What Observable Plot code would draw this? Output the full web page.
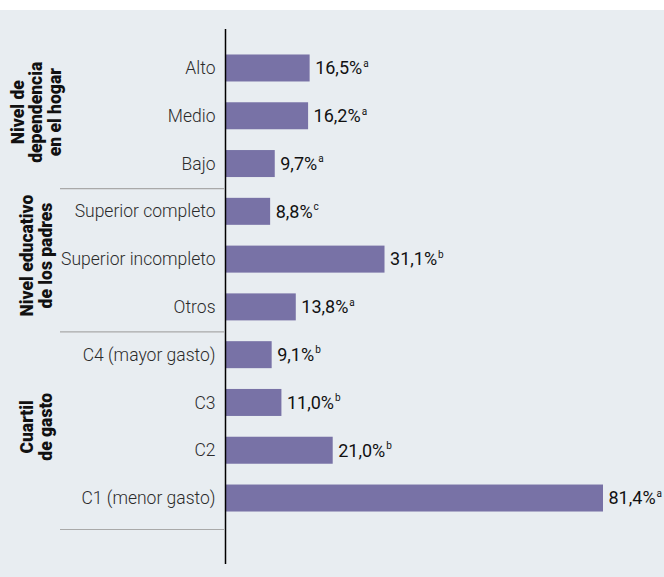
<!DOCTYPE html>
<html>
<head>
<meta charset="utf-8">
<script src="https://cdn.jsdelivr.net/npm/d3@7"></script>
<script src="https://cdn.jsdelivr.net/npm/@observablehq/plot@0.6"></script>
<style>
  html, body { margin: 0; padding: 0; background: #ffffff; }
  #chart { margin-top: 10px; width: 664px; height: 567px; background: #e8edf1; }
  #chart svg { display: block; }
</style>
</head>
<body>
<div id="chart"></div>
<script>
// ---- data ----
const categories = ["Alto", "Medio", "Bajo", "Superior completo", "Superior incompleto", "Otros",
                    "C4 (mayor gasto)", "C3", "C2", "C1 (menor gasto)"];
const values = [16.5, 16.2, 9.7, 8.8, 31.1, 13.8, 9.1, 11.0, 21.0, 81.4];
const letters = ["a", "a", "a", "c", "b", "a", "b", "b", "b", "a"];
const groupNames = ["Nivel de\ndependencia\nen el hogar", "Nivel educativo\nde los padres", "Cuartil\nde gasto"];
const groupSizes = [3, 3, 4];

// ---- build table ----
const data = categories.map((c, i) => ({cat: c, value: values[i], letter: letters[i]}));
const fmt = v => v.toFixed(1).replace(".", ",") + "%";
const SEP = "\u2063"; // invisible separator between value and superscript letter

// groups
const groups = [];
let start = 0;
groupSizes.forEach((n, gi) => {
  groups.push({name: groupNames[gi], first: start, last: start + n - 1, n});
  start += n;
});

const W = 664, H = 567;
const yRange = [23.7, 522.3];
const pad = 0.435;
const step = (yRange[1] - yRange[0]) / (categories.length - pad + 2 * pad);

const barColor = "#7872a6";
const sepColor = "#a9a9a9";
const textColor = "#2b2b2b";

// group label marks: anchor at middle category (+ half step if even)
const groupMarks = groups.map(g => {
  const midIdx = g.first + Math.floor((g.n - 1) / 2);
  const extra = (g.n % 2 === 0) ? step / 2 : -4;
  return Plot.text([g], {
    y: () => categories[midIdx],
    text: d => d.name,
    frameAnchor: "left",
    dx: -189,
    dy: extra,
    rotate: -90,
    textAnchor: "middle",
    lineAnchor: "middle",
    lineHeight: 1.05,
    fontSize: 17.5,
    fontWeight: 900,
    fill: "#111"
  });
});

const groupEnds = groups.slice(0, -1).map(g => categories[g.last]);
const lastEnd = [categories[groups[groups.length - 1].last]];

const plot = Plot.plot({
  width: W,
  height: H,
  marginLeft: 225,
  marginRight: 61,
  marginTop: 19,
  marginBottom: 13,
  style: {background: "transparent", fontFamily: "Roboto, sans-serif", color: textColor, overflow: "visible"},
  x: {domain: [0, 73.7], clamp: true, axis: null},
  y: {domain: categories, range: yRange, padding: pad, round: false, label: null},
  marks: [
    Plot.barX(data, {x: "value", y: "cat", fill: barColor}),
    Plot.ruleY(groupEnds, {dy: 24.5, stroke: sepColor, strokeWidth: 1.2, insetLeft: -165, insetRight: 379}),
    Plot.ruleY(lastEnd, {dy: 31, stroke: sepColor, strokeWidth: 1.2, insetLeft: -165, insetRight: 379}),
    Plot.ruleX([0], {stroke: "#000", strokeWidth: 1.5}),
    Plot.axisY({tickSize: 0, tickPadding: 10, fontSize: 17.5, fontWeight: 300, label: null, fill: textColor}),
    Plot.text(data, {
      x: "value", y: "cat",
      text: d => fmt(d.value) + SEP + d.letter,
      textAnchor: "start", dx: 5, fontSize: 18, fontWeight: 400, fill: "#111"
    }),
    ...groupMarks
  ]
});

document.getElementById("chart").appendChild(plot);

// superscripts: split value text and letter
d3.select(plot).selectAll("text").each(function () {
  const t = d3.select(this);
  const s = t.text();
  if (s.indexOf(SEP) < 0) return;
  const parts = s.split(SEP);
  t.text(parts[0]);
  t.append("tspan").attr("font-size", 10).attr("dy", "-0.75em").attr("dx", 1).text(parts[1]);
});
</script>
</body>
</html>
